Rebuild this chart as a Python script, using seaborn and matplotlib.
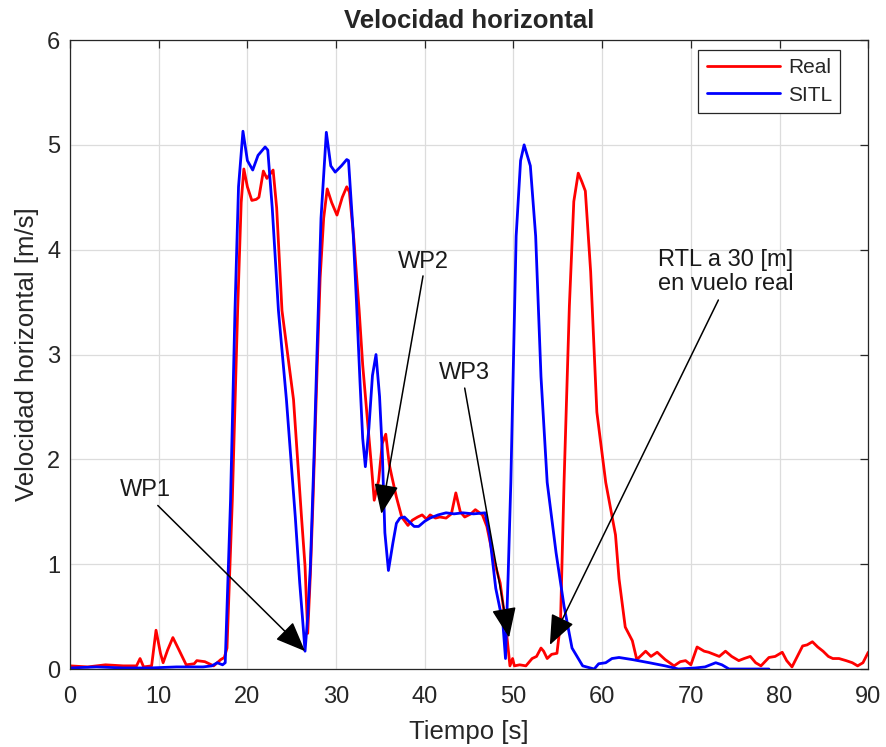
import pandas as pd
import numpy as np
import matplotlib.pyplot as plt
import seaborn as sns

# vuelo real
t_real = [0, 2, 4, 6, 7.5, 7.9, 8.3, 9.2, 9.7, 10.2, 10.5, 11.0, 11.6, 12.3, 13.1, 14.0, 14.3,
          15.2, 16.2, 17.0, 17.4, 17.7, 18.3, 18.9, 19.3, 19.6, 20.0, 20.5, 21.0, 21.3, 21.8,
          22.2, 22.9, 23.3, 23.9, 24.5, 25.2, 26.1, 26.5, 26.8, 27.1, 27.4, 27.8, 28.2, 28.6,
          29.0, 29.5, 30.1, 30.7, 31.2, 31.5, 32.0, 32.6, 33.0, 33.5, 34.0, 34.3, 34.8, 35.2,
          35.6, 36.0, 36.3, 36.8, 37.4, 38.1, 38.6, 39.2, 39.7, 40.2, 40.6, 41.2, 41.7, 42.4,
          43.0, 43.5, 44.0, 44.5, 45.2, 45.7, 46.5, 47.0, 47.7, 48.5, 49.1, 49.6, 49.9, 50.1,
          50.7, 51.4, 52.1, 52.6, 53.1, 53.4, 53.8, 54.3, 54.9, 55.3, 55.7, 56.3, 56.8, 57.3,
          57.7, 58.1, 58.7, 59.4, 60.4, 61.5, 61.9, 62.6, 63.4, 63.9, 64.9, 65.5, 66.2, 67.1,
          68.1, 68.8, 69.4, 70.0, 70.7, 71.1, 71.5, 72.0, 72.6, 73.2, 73.9, 74.6, 75.4, 76.0,
          76.7, 77.3, 77.9, 78.8, 79.5, 80.3, 80.8, 81.4, 82.0, 82.6, 83.1, 83.7, 84.3, 84.9,
          85.5, 86.0, 86.7, 87.5, 88.2, 88.8, 89.4, 90.0]
v_real = [0.03, 0.02, 0.04, 0.03, 0.03, 0.10, 0.02, 0.03, 0.37, 0.15, 0.06, 0.18, 0.30, 0.18,
          0.04, 0.05, 0.08, 0.07, 0.03, 0.09, 0.11, 0.20, 1.61, 3.42, 4.45, 4.77, 4.60, 4.47,
          4.48, 4.50, 4.75, 4.68, 4.76, 4.40, 3.42, 3.03, 2.57, 1.45, 0.98, 0.34, 0.90, 1.61,
          2.70, 3.73, 4.30, 4.58, 4.45, 4.33, 4.50, 4.60, 4.55, 4.10, 3.42, 2.90, 2.41, 1.92,
          1.61, 1.80, 2.15, 2.24, 1.95, 1.83, 1.64, 1.45, 1.37, 1.42, 1.45, 1.47, 1.43, 1.47,
          1.44, 1.45, 1.44, 1.48, 1.68, 1.50, 1.45, 1.48, 1.52, 1.47, 1.36, 1.07, 0.82, 0.44,
          0.03, 0.10, 0.03, 0.04, 0.03, 0.10, 0.12, 0.20, 0.17, 0.10, 0.14, 0.15, 0.44, 1.78,
          3.46, 4.46, 4.73, 4.65, 4.56, 3.79, 2.45, 1.78, 1.28, 0.86, 0.40, 0.27, 0.09, 0.17,
          0.12, 0.16, 0.09, 0.03, 0.07, 0.08, 0.04, 0.21, 0.19, 0.17, 0.16, 0.14, 0.12, 0.17,
          0.12, 0.08, 0.10, 0.12, 0.06, 0.03, 0.11, 0.12, 0.16, 0.08, 0.02, 0.12, 0.22, 0.23,
          0.26, 0.21, 0.17, 0.12, 0.10, 0.10, 0.08, 0.06, 0.03, 0.06, 0.16]

# simulacion SITL
t_sitl = [0, 3, 6, 9, 12, 15, 16.0, 16.6, 17.2, 17.5, 18.1, 18.6, 19.0, 19.5, 20.0, 20.6, 21.2,
          22.0, 22.3, 22.8, 23.5, 24.4, 25.4, 25.9, 26.2, 26.5, 26.8, 27.1, 27.5, 27.8, 28.3,
          28.9, 29.4, 29.9, 30.6, 31.2, 31.4, 31.9, 32.3, 32.7, 33.0, 33.3, 33.7, 34.1, 34.5,
          34.9, 35.2, 35.5, 35.9, 36.4, 36.8, 37.2, 37.7, 38.3, 38.8, 39.3, 40.0, 40.6, 41.5,
          42.4, 43.3, 44.3, 45.5, 46.8, 47.3, 48.0, 48.8, 49.1, 49.4, 49.7, 50.3, 50.8, 51.2,
          51.9, 52.5, 53.1, 53.8, 54.8, 55.7, 56.6, 57.8, 59.1, 59.6, 60.4, 61.1, 61.9, 63.4,
          65.3, 67.1, 68.6, 70.5, 71.6, 72.8, 73.5, 74.3, 76.0, 78.8]
v_sitl = [0.01, 0.02, 0.01, 0.01, 0.02, 0.02, 0.03, 0.06, 0.04, 0.06, 1.61, 3.42, 4.60, 5.13,
          4.85, 4.76, 4.90, 4.98, 4.95, 4.40, 3.42, 2.57, 1.45, 0.82, 0.50, 0.17, 0.50, 0.98,
          2.00, 2.88, 4.30, 5.12, 4.80, 4.74, 4.80, 4.86, 4.85, 4.20, 3.50, 2.73, 2.20, 1.93,
          2.30, 2.80, 3.00, 2.60, 2.09, 1.30, 0.94, 1.20, 1.39, 1.44, 1.45, 1.40, 1.36, 1.36,
          1.41, 1.44, 1.47, 1.49, 1.48, 1.49, 1.48, 1.49, 1.28, 0.77, 0.44, 0.10, 0.90, 1.78,
          4.13, 4.85, 5.00, 4.80, 4.13, 2.79, 1.78, 1.11, 0.60, 0.20, 0.03, 0.00, 0.05, 0.06,
          0.10, 0.11, 0.09, 0.06, 0.03, 0.00, 0.01, 0.02, 0.06, 0.04, 0.00, 0.00, 0.00]

# anotaciones: texto, posicion del texto, inicio y punta de la flecha
notes = ["WP1", "WP2", "WP3", "RTL a 30 [m]\nen vuelo real"]
note_pos = [(8.5, 1.71), (39.8, 3.88), (44.5, 2.82), (73.9, 3.79)]
arrow_from = [(9.9, 1.56), (39.8, 3.75), (44.5, 2.68), (73.1, 3.52)]
arrow_to = [(26.5, 0.17), (35.1, 1.48), (49.5, 0.30), (54.1, 0.23)]

df = pd.concat([
    pd.DataFrame({'t': t_real, 'v': v_real, 'serie': 'Real'}),
    pd.DataFrame({'t': t_sitl, 'v': v_sitl, 'serie': 'SITL'}),
], ignore_index=True)

sns.set_style("whitegrid")
plt.rcParams['font.family'] = ['Liberation Sans', 'DejaVu Sans']

fig = plt.figure(figsize=(8.86, 7.47), dpi=100)
ax = fig.add_axes([0.079, 0.1044, 0.901, 0.842])

sns.lineplot(data=df, x='t', y='v', hue='serie', palette={'Real': '#ff0000', 'SITL': '#0000ff'},
             estimator=None, sort=False, lw=2.0, ax=ax)

for txt, p, a, b in zip(notes, note_pos, arrow_from, arrow_to):
    ax.text(p[0], p[1], txt, ha='center', va='center', fontsize=17, linespacing=1.1,
            color='#1a1a1a')
    ax.annotate("", xy=b, xytext=a,
                arrowprops=dict(arrowstyle='-|>,head_length=1.1,head_width=0.45',
                                color='black', lw=1.1, mutation_scale=17,
                                shrinkA=0, shrinkB=0))

ax.set_xlim(0, 90)
ax.set_ylim(0, 6)
ax.set_xticks(np.arange(0, 91, 10))
ax.set_yticks(np.arange(0, 7, 1))
ax.grid(True, color='#dcdcdc', lw=0.9)
for s in ax.spines.values():
    s.set_color('#262626')
    s.set_linewidth(0.9)
ax.tick_params(direction='in', top=True, right=True, length=6, width=0.9,
               colors='#262626', labelsize=17)
ax.tick_params(axis='x', pad=12)
ax.tick_params(axis='y', pad=7)

ax.set_title('Velocidad horizontal', fontsize=18.5, fontweight='bold', y=1.0, pad=8.5)
ax.set_xlabel('Tiempo [s]', fontsize=18.5, labelpad=9, color='#262626')
ax.set_ylabel('Velocidad horizontal [m/s]', fontsize=18.5, labelpad=6, color='#262626')

h, l = ax.get_legend_handles_labels()
leg = ax.legend(h, l, loc='upper right', bbox_to_anchor=(0.965, 0.984), fontsize=15,
                handlelength=3.5, frameon=True, fancybox=False, borderpad=0.4,
                labelspacing=0.4, handletextpad=0.4, borderaxespad=0)
leg.get_frame().set_edgecolor('#262626')
leg.get_frame().set_linewidth(0.9)
leg.get_frame().set_alpha(1)

plt.savefig('out.png', dpi=100)
